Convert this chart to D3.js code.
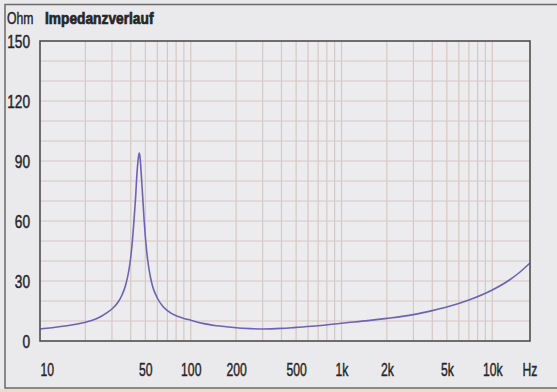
<!DOCTYPE html>
<html lang="de">
<head>
<meta charset="UTF-8">
<title>Impedanzverlauf</title>
<style>
    body, html {
        margin: 0;
        padding: 0;
        background: #eae9ec;
        overflow: hidden;
    }
    svg { display: block; }
    .lbl {
        font-family: 'Liberation Sans', Arial, sans-serif;
        fill: #262626;
        stroke: #262626;
        stroke-width: 0.45px;
    }
    .grid line {
        stroke: #d6c8c3;
        stroke-width: 1.2px;
    }
    .curve {
        fill: none;
        stroke: #6d62b4;
        stroke-width: 1.6px;
    }
</style>
</head>
<body>
<svg width="557" height="392"></svg>

<script src="https://d3js.org/d3.v7.min.js"></script>
<script>
    // impedance readings (Hz / Ohm) taken from the plot
    const freq = [10, 12, 15, 18, 20, 22, 25, 28, 30, 33, 35, 37, 39, 40, 41, 42, 43, 44, 45, 45.5,
        46, 47, 48, 49, 50, 51, 52, 54, 56, 60, 65, 70, 80, 90, 100, 120, 150, 200, 250, 300,
        400, 500, 700, 1000, 1500, 2000, 3000, 4000, 5000, 7000, 10000, 13000, 15000, 17800];
    const ohm = [6.0, 6.6, 7.6, 8.6, 9.4, 10.3, 12.0, 14.3, 16.0, 19.5, 23, 28, 36, 42, 50, 60, 71, 84, 92, 94,
        92.5, 83, 72, 61, 52, 45, 39.5, 32, 27, 21.5, 17.5, 15.2, 12.6, 11.3, 10.4, 8.8, 7.6, 6.6, 6.2, 6.0,
        6.3, 6.8, 7.6, 8.9, 10.2, 11.3, 13.2, 15.2, 17.0, 20.5, 25.5, 30.5, 34, 39];

    const xTickVals = [10, 50, 100, 200, 500, 1000, 2000, 5000, 10000];
    const xTickText = ["10", "50", "100", "200", "500", "1k", "2k", "5k", "10k"];
    const yTickVals = [0, 30, 60, 90, 120, 150];
    const xGridVals = [20, 30, 40, 50, 60, 70, 80, 90, 100, 200, 300, 400, 500, 600, 700, 800, 900,
        1000, 2000, 3000, 4000, 5000, 6000, 7000, 8000, 9000, 10000];
    const yGridVals = [10, 20, 30, 40, 50, 60, 70, 80, 90, 100, 110, 120, 130, 140];

    const svg = d3.select("svg");
    const pLeft = 40, pRight = 530, pTop = 41, pBottom = 341;

    const x = d3.scaleLog().domain([10, 17800]).range([pLeft, pRight]);
    const y = d3.scaleLinear().domain([0, 150]).range([pBottom, pTop]);

    // squeeze text horizontally, the original uses a condensed face
    function condense(sel, sx) {
        sel.attr("transform", function() {
            const t = d3.select(this).attr("transform");
            return (t ? t + " " : "") + `scale(${sx},1)`;
        });
    }

    // outer frame (left, top, bottom)
    svg.append("path")
        .attr("d", `M560,4.5 H5 V388 H560`)
        .attr("fill", "none")
        .attr("stroke", "#6a6a6a")
        .attr("stroke-width", 1.5);
    svg.append("rect")
        .attr("x", 0).attr("y", 389).attr("width", 557).attr("height", 3)
        .attr("fill", "#efdcc8");

    // plot background
    svg.append("rect")
        .attr("x", pLeft).attr("y", pTop)
        .attr("width", pRight - pLeft).attr("height", pBottom - pTop)
        .attr("fill", "#ecebee");

    const grid = svg.append("g").attr("class", "grid");
    grid.selectAll(".vx")
        .data(xGridVals)
        .enter().append("line")
        .attr("x1", d => x(d)).attr("x2", d => x(d))
        .attr("y1", pTop).attr("y2", pBottom);
    grid.selectAll(".hy")
        .data(yGridVals)
        .enter().append("line")
        .attr("x1", pLeft).attr("x2", pRight)
        .attr("y1", d => y(d)).attr("y2", d => y(d));

    // curve
    const line = d3.line()
        .x((d, i) => x(freq[i]))
        .y(d => y(d))
        .curve(d3.curveMonotoneX);
    svg.append("path")
        .attr("class", "curve")
        .attr("d", line(ohm));

    // plot border
    svg.append("rect")
        .attr("x", pLeft).attr("y", pTop)
        .attr("width", pRight - pLeft).attr("height", pBottom - pTop)
        .attr("fill", "none")
        .attr("stroke", "#4e4e4e")
        .attr("stroke-width", 1.6);

    // axes
    const xAxis = svg.append("g")
        .attr("transform", `translate(0,${pBottom})`)
        .call(d3.axisBottom(x).tickValues(xTickVals).tickSize(0).tickPadding(22)
            .tickFormat((d, i) => xTickText[i]));
    xAxis.select(".domain").remove();
    xAxis.selectAll("text")
        .attr("class", "lbl")
        .attr("font-size", 19)
        .call(condense, 0.64)
        .filter(d => d === 10)
        .attr("text-anchor", "start");

    const hz = xAxis.append("g").attr("transform", `translate(${pRight},0)`);
    hz.append("text")
        .attr("class", "lbl")
        .attr("y", 22)
        .attr("dy", "0.71em")
        .attr("text-anchor", "middle")
        .attr("font-size", 19)
        .text("Hz")
        .call(condense, 0.64);

    const yAxis = svg.append("g")
        .attr("transform", "translate(30,0)")
        .call(d3.axisLeft(y).tickValues(yTickVals).tickSize(0).tickPadding(0));
    yAxis.select(".domain").remove();
    yAxis.selectAll("text")
        .attr("class", "lbl")
        .attr("font-size", 18.5)
        .attr("dy", "0.36em")
        .call(condense, 0.74);

    // title
    svg.append("g").attr("transform", "translate(7,24)")
        .append("text")
        .attr("class", "lbl")
        .attr("font-size", 17)
        .text("Ohm")
        .call(condense, 0.72);
    svg.append("g").attr("transform", "translate(45,24)")
        .append("text")
        .attr("class", "lbl")
        .attr("font-size", 16)
        .attr("font-weight", "bold")
        .style("stroke-width", "0.7px")
        .text("Impedanzverlauf")
        .call(condense, 0.86);
</script>
</body>
</html>
